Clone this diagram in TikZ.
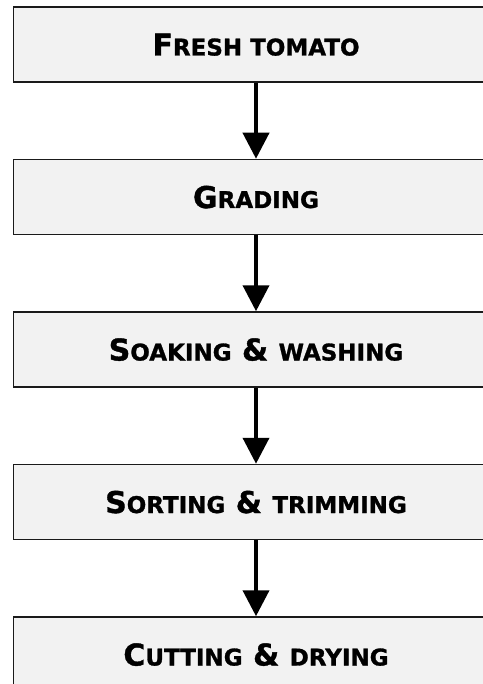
\documentclass[tikz,border=0pt]{standalone}
\usepackage{fontspec}
\setmainfont[BoldFeatures={FakeBold=1.2}]{DejaVu Sans}
\usetikzlibrary{positioning,arrows.meta}
\definecolor{harmaa}{HTML}{F2F2F2}
\definecolor{reuna}{HTML}{1A1A1A}
\newcommand{\pienet}[1]{{\fontsize{23}{27}\selectfont #1}}
\tikzset{
	vaihe/.style={draw=reuna, line width=1.5pt, fill=harmaa, minimum width=485pt, minimum height=75pt,
		inner sep=0pt, text height=22pt, text depth=0pt, font=\bfseries\fontsize{30}{35}\selectfont},
	nuoli/.style={line width=4pt, -{Triangle[length=26pt,width=26pt]}}
}

\begin{document}
\begin{tikzpicture}[x=1pt, y=-1pt, node distance=76pt]
				\useasboundingbox (0,0) rectangle (482,684);
				\node[vaihe] (tomaatti) at (256,44.5) {F\pienet{RESH TOMATO}};
				\node[vaihe, below=of tomaatti] (lajittelu) {G\pienet{RADING}};
				\node[vaihe, below=of lajittelu] (pesu) {S\pienet{OAKING} \& \pienet{WASHING}};
				\node[vaihe, below=of pesu] (trimmaus) {S\pienet{ORTING} \& \pienet{TRIMMING}};
				\node[vaihe, below=of trimmaus] (kuivaus) {C\pienet{UTTING} \& \pienet{DRYING}};
				\draw[nuoli] (tomaatti) -- (lajittelu);
				\draw[nuoli] (lajittelu) -- (pesu);
				\draw[nuoli] (pesu) -- (trimmaus);
				\draw[nuoli] (trimmaus) -- (kuivaus);
			\end{tikzpicture}
\end{document}
